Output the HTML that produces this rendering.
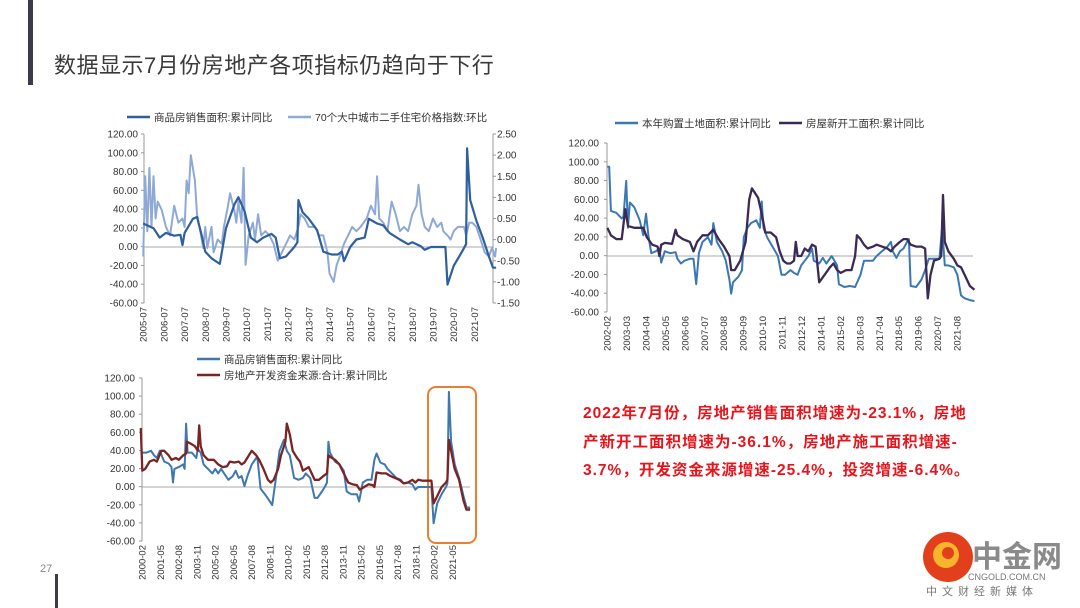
<!DOCTYPE html>
<html><head><meta charset="utf-8"><style>
body{margin:0;width:1080px;height:608px;background:#fff;overflow:hidden;position:relative;font-family:"Liberation Sans","Noto Sans CJK SC",sans-serif}
#title{position:absolute;left:54px;top:48px;font-size:22px;color:#3a3a3a;letter-spacing:0.5px}
.note{position:absolute;left:583px;font-size:15.5px;color:#e8141b;font-weight:bold;letter-spacing:1px;white-space:nowrap}
svg{position:absolute;left:0;top:0}
</style></head><body>
<div id="title">数据显示7月份房地产各项指标仍趋向于下行</div>
<div class="note" style="top:401px">2022年7月份，房地产销售面积增速为-23.1%，房地</div>
<div class="note" style="top:430px">产新开工面积增速为-36.1%，房地产施工面积增速-</div>
<div class="note" style="top:458px">3.7%，开发资金来源增速-25.4%，投资增速-6.4%。</div>
<svg id="s" width="1080" height="608">
<rect x="28" y="0" width="5" height="85" fill="#3a3a4a"/>
<rect x="55" y="574" width="3" height="34" fill="#3a3a4a"/>
<text x="40" y="572" font-size="11" fill="#888">27</text>
<rect x="428" y="387" width="48" height="156" rx="8" fill="none" stroke="#ed7d31" stroke-width="2"/>
<g>
<circle cx="948" cy="557" r="25" fill="#e2401c"/>
<circle cx="946" cy="555" r="13" fill="#f7b52c"/>
<circle cx="948" cy="553" r="6" fill="#e2401c"/>
<text x="972" y="567" font-size="30" font-weight="bold" fill="#8a8a8a">中金网</text>
<text x="968" y="580" font-size="9" fill="#777">CNGOLD.COM.CN</text>
<text x="926" y="595" font-size="11" fill="#777" letter-spacing="5">中文财经新媒体</text>
</g>
</svg>
<script>
// Chart 1 data
const c1SalesT=[2005.5,2006.0,2006.3,2006.6,2007.0,2007.3,2007.4,2007.5,2007.9,2008.1,2008.3,2008.5,2008.8,2009.2,2009.5,2009.9,2010.1,2010.4,2010.7,2011.0,2011.3,2011.7,2011.9,2012.1,2012.4,2012.8,2012.95,2013.0,2013.2,2013.5,2013.9,2014.2,2014.6,2014.9,2015.1,2015.2,2015.5,2015.8,2016.2,2016.4,2016.8,2017.1,2017.4,2017.9,2018.3,2018.5,2018.9,2019.1,2019.4,2019.9,2020.1,2020.2,2020.5,2020.9,2021.1,2021.15,2021.3,2021.6,2021.9,2022.2,2022.4,2022.55];
const c1SalesV=[25,20,10,15,12,13,2,15,30,32,15,-5,-12,-18,20,45,53,38,10,5,10,14,10,-12,-10,0,5,50,37,30,18,-5,-8,-8,-5,-15,0,8,10,30,25,23,15,8,3,5,1,-3,0,0,0,-40,-20,-5,3,105,50,28,10,-10,-22,-22];
const c1PriceT=[2005.5,2005.6,2005.7,2005.8,2005.9,2006.0,2006.1,2006.2,2006.4,2006.6,2006.8,2007.0,2007.2,2007.4,2007.5,2007.6,2007.7,2007.8,2008.0,2008.1,2008.3,2008.4,2008.5,2008.6,2008.8,2008.9,2009.1,2009.3,2009.4,2009.6,2009.7,2009.9,2010.0,2010.1,2010.25,2010.35,2010.45,2010.6,2010.8,2010.9,2011.05,2011.2,2011.4,2011.6,2011.8,2012.0,2012.2,2012.4,2012.6,2012.8,2013.0,2013.1,2013.3,2013.5,2013.8,2014.0,2014.2,2014.4,2014.5,2014.7,2014.85,2015.0,2015.2,2015.4,2015.6,2015.8,2016.0,2016.3,2016.5,2016.7,2016.8,2016.9,2017.1,2017.3,2017.5,2017.7,2017.9,2018.1,2018.3,2018.5,2018.7,2018.8,2018.95,2019.1,2019.3,2019.5,2019.7,2019.9,2020.0,2020.2,2020.35,2020.5,2020.7,2021.0,2021.1,2021.25,2021.4,2021.6,2021.8,2022.0,2022.2,2022.35,2022.5,2022.55];
const c1PriceV=[-0.4,1.5,0.2,1.7,0.3,1.5,0.5,0.9,0.7,0.3,0.1,0.8,0.4,0.5,0.3,1.4,1.1,2.0,1.4,0.6,0.1,-0.2,0.3,-0.2,0.3,-0.3,0.0,-0.1,0.3,0.8,1.1,0.7,0.4,0.9,0.4,1.7,-0.6,0.1,0.4,0.0,0.6,0.1,0.2,0.1,-0.1,-0.5,-0.3,-0.1,0.1,0.0,0.3,0.6,0.5,0.3,0.3,0.1,0.1,-0.3,-0.8,-1.0,-0.6,-0.4,-0.1,0.1,0.3,0.2,0.3,0.5,0.8,0.6,1.5,0.5,0.4,0.2,0.9,0.6,0.2,0.3,0.2,0.6,0.8,1.3,0.6,0.3,0.2,0.5,0.3,0.4,0.2,0.1,0.0,0.2,0.3,0.3,0.1,0.4,0.4,0.3,0.0,-0.3,-0.4,-0.2,-0.4,-0.2];
const c1LeftTicks=["120.00","100.00","80.00","60.00","40.00","20.00","0.00","-20.00","-40.00","-60.00"];
const c1RightTicks=["2.50","2.00","1.50","1.00","0.50","0.00","-0.50","-1.00","-1.50"];
const c1XLabels=["2005-07","2006-07","2007-07","2008-07","2009-07","2010-07","2011-07","2012-07","2013-07","2014-07","2015-07","2016-07","2017-07","2018-07","2019-07","2020-07","2021-07"];
// Chart 2 data
const c2LandT=[2002.1,2002.2,2002.3,2002.6,2002.9,2003.0,2003.15,2003.25,2003.35,2003.6,2003.9,2004.1,2004.25,2004.4,2004.55,2004.8,2005.0,2005.1,2005.3,2005.6,2005.9,2006.0,2006.2,2006.4,2006.7,2006.9,2007.05,2007.2,2007.4,2007.7,2007.9,2008.0,2008.2,2008.5,2008.7,2008.9,2009.0,2009.1,2009.4,2009.6,2009.7,2009.9,2010.1,2010.4,2010.6,2010.7,2010.8,2011.0,2011.3,2011.6,2011.8,2012.0,2012.3,2012.5,2012.7,2012.9,2013.1,2013.3,2013.5,2013.6,2013.9,2014.1,2014.3,2014.6,2014.9,2015.0,2015.3,2015.6,2015.9,2016.2,2016.4,2016.6,2016.9,2017.1,2017.4,2017.7,2017.9,2018.0,2018.2,2018.4,2018.6,2018.8,2018.9,2019.0,2019.3,2019.6,2019.8,2020.0,2020.2,2020.4,2020.6,2020.75,2020.9,2021.1,2021.4,2021.6,2021.8,2022.0,2022.3,2022.55];
const c2LandV=[95,95,48,46,40,42,80,30,57,52,38,22,45,20,3,5,8,-7,5,3,4,-3,-8,-5,-3,-3,-30,3,15,20,12,35,15,5,-5,-25,-40,-28,-22,-15,20,30,35,38,30,58,30,20,10,0,-20,-20,-15,-18,-20,-10,-5,0,8,-5,-8,-2,-8,0,-10,-30,-33,-32,-33,-20,-5,-5,-5,0,5,10,15,5,-2,5,8,15,18,-32,-33,-25,-15,-3,-3,-3,-3,30,-10,-10,-12,-20,-42,-45,-47,-48];
const c2StartT=[2002.1,2002.3,2002.6,2002.9,2003.1,2003.25,2003.6,2003.9,2004.1,2004.3,2004.6,2004.9,2005.0,2005.1,2005.3,2005.7,2005.9,2006.0,2006.3,2006.7,2006.9,2007.1,2007.4,2007.7,2008.0,2008.3,2008.6,2008.9,2009.0,2009.2,2009.5,2009.8,2010.0,2010.15,2010.3,2010.5,2010.7,2010.9,2011.2,2011.5,2011.7,2011.9,2012.1,2012.3,2012.5,2012.6,2012.7,2012.9,2013.1,2013.3,2013.5,2013.7,2013.9,2014.2,2014.5,2014.7,2014.9,2015.1,2015.4,2015.7,2015.9,2016.0,2016.2,2016.4,2016.6,2016.9,2017.1,2017.4,2017.7,2017.9,2018.1,2018.4,2018.6,2018.8,2019.0,2019.3,2019.6,2019.8,2019.95,2020.1,2020.3,2020.6,2020.7,2020.8,2020.9,2021.1,2021.4,2021.6,2021.8,2022.0,2022.3,2022.55];
const c2StartV=[30,22,18,18,50,32,30,30,30,20,12,10,0,12,14,13,28,22,18,15,5,15,22,22,28,18,10,0,-15,-15,-5,15,60,72,68,62,45,25,25,20,5,-5,-8,-8,-5,15,0,0,8,5,12,10,-28,-20,-12,-8,-15,-18,-15,-15,0,22,18,12,8,10,12,10,8,5,10,15,18,18,12,10,10,8,-45,-20,-5,-3,0,65,15,5,-3,-10,-12,-20,-32,-36];
const c2Ticks=["120.00","100.00","80.00","60.00","40.00","20.00","0.00","-20.00","-40.00","-60.00"];
const c2XLabels=["2002-02","2003-03","2004-04","2005-05","2006-06","2007-07","2008-08","2009-09","2010-10","2011-11","2012-12","2014-01","2015-02","2016-03","2017-04","2018-05","2019-06","2020-07","2021-08"];
// Chart 3 data
const c3SalesT=[2000.1,2000.4,2000.7,2000.9,2001.1,2001.3,2001.6,2001.9,2002.1,2002.2,2002.3,2002.6,2002.9,2003.0,2003.1,2003.2,2003.5,2003.8,2003.9,2004.1,2004.3,2004.6,2004.9,2005.1,2005.3,2005.5,2005.7,2006.0,2006.3,2006.5,2006.7,2006.9,2007.1,2007.3,2007.6,2007.9,2008.0,2008.2,2008.5,2008.8,2009.0,2009.3,2009.5,2009.8,2010.0,2010.2,2010.5,2010.8,2011.1,2011.3,2011.6,2011.9,2012.1,2012.4,2012.6,2012.75,2012.85,2012.95,2013.3,2013.6,2013.9,2014.1,2014.4,2014.8,2014.95,2015.2,2015.5,2015.8,2016.0,2016.15,2016.4,2016.7,2016.9,2017.2,2017.5,2017.8,2018.0,2018.3,2018.6,2018.8,2019.0,2019.3,2019.6,2019.9,2020.05,2020.3,2020.6,2020.9,2021.0,2021.1,2021.25,2021.5,2021.8,2022.1,2022.3,2022.55];
const c3SalesV=[38,38,40,35,32,40,28,26,22,5,20,22,25,20,70,38,38,32,42,38,25,20,15,20,15,20,15,8,12,18,10,12,1,12,25,32,30,-2,-8,-15,-20,15,40,52,40,35,10,8,10,15,10,-12,-12,-5,0,5,50,38,28,25,18,-5,-8,-8,-16,5,8,8,30,37,27,25,20,15,10,8,4,5,3,-3,0,0,0,0,-40,-18,-8,0,4,105,50,25,10,-10,-22,-23];
const c3FundT=[2000.0,2000.1,2000.3,2000.6,2000.9,2001.1,2001.4,2001.6,2001.9,2002.1,2002.4,2002.6,2002.9,2003.1,2003.15,2003.4,2003.7,2003.9,2004.0,2004.1,2004.3,2004.6,2005.0,2005.3,2005.6,2005.9,2006.1,2006.4,2006.7,2006.9,2007.1,2007.4,2007.6,2007.9,2008.1,2008.4,2008.7,2008.9,2009.1,2009.4,2009.6,2009.9,2010.0,2010.2,2010.4,2010.7,2010.9,2011.1,2011.3,2011.5,2011.7,2011.9,2012.2,2012.5,2012.75,2012.85,2013.0,2013.3,2013.6,2013.9,2014.2,2014.5,2014.8,2015.0,2015.3,2015.6,2015.9,2016.0,2016.15,2016.5,2016.8,2017.1,2017.4,2017.7,2018.0,2018.3,2018.6,2018.8,2019.0,2019.3,2019.6,2019.9,2020.05,2020.3,2020.6,2020.9,2021.0,2021.1,2021.25,2021.5,2021.8,2022.1,2022.3,2022.55];
const c3FundV=[65,18,20,28,30,28,40,40,35,30,32,30,35,37,50,48,45,40,68,45,35,30,30,25,22,23,28,27,28,25,27,35,40,35,30,20,8,5,8,20,35,50,70,58,40,32,28,18,20,22,15,8,8,12,15,35,33,30,25,15,5,3,2,-3,0,3,2,0,16,15,15,12,10,8,4,5,8,5,8,7,7,7,-18,-10,0,5,8,52,40,20,8,-15,-25,-25];
const c3Ticks=["120.00","100.00","80.00","60.00","40.00","20.00","0.00","-20.00","-40.00","-60.00"];
const c3XLabels=["2000-02","2001-05","2002-08","2003-11","2005-02","2006-05","2007-08","2008-11","2010-02","2011-05","2012-08","2013-11","2015-02","2016-05","2017-08","2018-11","2020-02","2021-05"];

const NS="http://www.w3.org/2000/svg";
const svg=document.getElementById('s');
function mk(tag,attrs,parent){const e=document.createElementNS(NS,tag);for(const k in attrs)e.setAttribute(k,attrs[k]);(parent||svg).appendChild(e);return e;}
function lbl(s){const p=s.split('-');return +p[0]+(+p[1]-1)/12;}

function axes(g,x0,x1,yTop,yBot,yZero,ticks,labelX,xLabels,xs,rightTicks,rx){
  let ax=mk('line',{x1:x0,y1:yTop,x2:x0,y2:yBot,stroke:'#999','stroke-width':1},g);
  
  let zl=mk('line',{x1:x0,y1:yZero,x2:x1,y2:yZero,stroke:'#aaa','stroke-width':1},g);
  
  ticks.forEach((t,i)=>{const y=yTop+i*(yBot-yTop)/(ticks.length-1);
    mk('line',{x1:x0-3,y1:y,x2:x0,y2:y,stroke:'#999'},g);
    const tx=mk('text',{x:labelX,y:y+3.5,'font-size':10,fill:'#333','text-anchor':'end'},g);tx.textContent=t;
    });
  if(rightTicks){mk('line',{x1:x1,y1:yTop,x2:x1,y2:yBot,stroke:'#999'},g);
    rightTicks.forEach((t,i)=>{const y=yTop+i*(yBot-yTop)/(rightTicks.length-1);
      mk('line',{x1:x1,y1:y,x2:x1+3,y2:y,stroke:'#999'},g);
      const tx=mk('text',{x:rx,y:y+3.5,'font-size':10,fill:'#333'},g);tx.textContent=t;
      });}
  xLabels.forEach(l=>{const x=xs(lbl(l));
    const tx=mk('text',{x:0,y:0,'font-size':9.5,fill:'#333','text-anchor':'end',transform:`translate(${x+3.5},${yBot+4}) rotate(-90)`},g);tx.textContent=l;
    });
}
function line(g,T,V,xs,ys,color,w,name){
  const d=T.map((t,i)=>(i?'L':'M')+xs(t).toFixed(1)+','+ys(V[i]).toFixed(1)).join('');
  const p=mk('path',{d:d,fill:'none',stroke:color,'stroke-width':w,'stroke-linejoin':'round'},g);
  
}
function legend(g,x,y,color,text,name,w){
  const l=mk('line',{x1:x,y1:y,x2:x+23,y2:y,stroke:color,'stroke-width':w||2.5},g);
  
  const t=mk('text',{x:x+27,y:y+4,'font-size':10.5,fill:'#333'},g);t.textContent=text;
  
}
// Chart 1
const g1=mk('g',{});
const x1=t=>144+(t-2005.54)*20.7, y1=v=>247-v*0.939, y1r=v=>239.6-v*42.2;
axes(g1,144,493,134,303,247,c1LeftTicks,138,c1XLabels,x1,c1RightTicks,497);
line(g1,c1PriceT,c1PriceV,x1,y1r,'#8fa9d6',2,'price-index-line');
line(g1,c1SalesT,c1SalesV,x1,y1,'#2f5f9e',2.2,'sales-area-line');
legend(g1,127,117,'#2f5f9e','商品房销售面积:累计同比','legend-sales-area');
legend(g1,288,117,'#8fa9d6','70个大中城市二手住宅价格指数:环比','legend-price-index');
// Chart 2
const g2=mk('g',{});
const x2=t=>607+(t-2002.08)*17.95, y2=v=>256-v*0.9389;
axes(g2,607,973,143,312,256,c2Ticks,599,c2XLabels,x2);
line(g2,c2LandT,c2LandV,x2,y2,'#3a78b5',2,'land-area-line');
line(g2,c2StartT,c2StartV,x2,y2,'#3b2a55',2.3,'new-starts-line');
legend(g2,615,123,'#3a78b5','本年购置土地面积:累计同比','legend-land-area');
legend(g2,779,123,'#3b2a55','房屋新开工面积:累计同比','legend-new-starts');
// Chart 3
const g3=mk('g',{});
const x3=t=>142+(t-2000.08)*14.6, y3=v=>487-v*0.9056;
axes(g3,142,470,378,541,487,c3Ticks,135,c3XLabels,x3);
line(g3,c3SalesT,c3SalesV,x3,y3,'#3f77b0',2,'sales-area-line-2');
line(g3,c3FundT,c3FundV,x3,y3,'#7a2424',2.3,'funding-line');
legend(g3,197,359,'#3f77b0','商品房销售面积:累计同比','legend-sales-area-2');
legend(g3,197,375,'#7a2424','房地产开发资金来源:合计:累计同比','legend-funding');
</script>
</body></html>
